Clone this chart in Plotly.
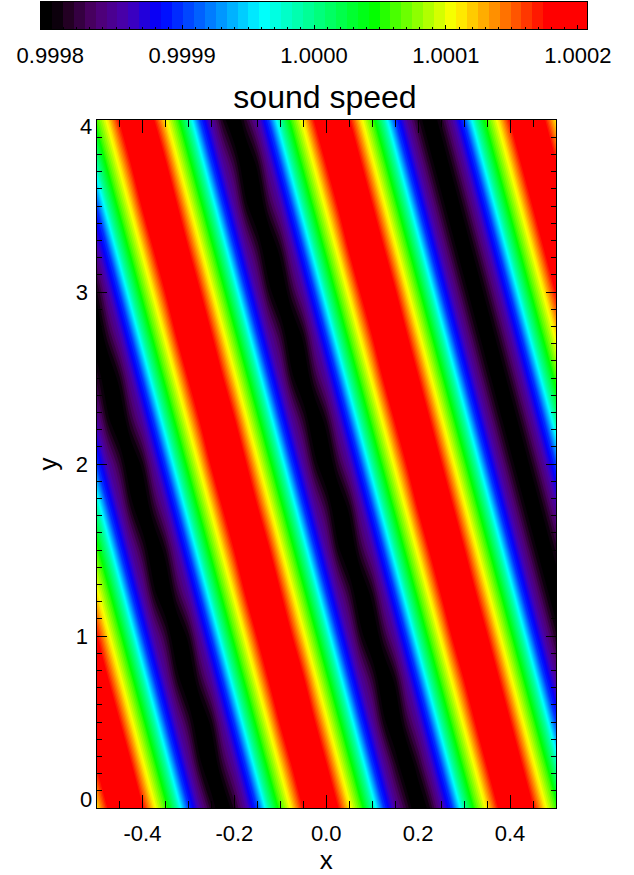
import numpy as np
import plotly.graph_objects as go

# colorbar tick labels and range
bar_ticks = [0.9998, 0.9999, 1.0, 1.0001, 1.0002]
bar_labels = ['0.9998', '0.9999', '1.0000', '1.0001', '1.0002']
z_low = 0.999793
z_high = 1.000207
n_levels = 50

x_ticks = [-0.4, -0.2, 0.0, 0.2, 0.4]
x_labels = ['-0.4', '-0.2', '0.0', '0.2', '0.4']
y_ticks = [0, 1, 2, 3, 4]
y_labels = ['', '1', '2', '3', '']

# sample positions
x_pos = [-0.5 + 0.025 * i for i in range(41)]
y_pos = [0.25 * j for j in range(17)]

# sound speed minus one, in units of 1e-4, bottom row first
rows = [
    [1.12,1.78,2.28,2.28,1.78,1.12,.60,-.08,-.99,-1.48,-1.88,-2.19,-1.88,-1.48,-.99,-.08,.60,1.12,1.78,2.28,2.28,1.78,1.12,.60,-.08,-.99,-1.48,-1.84,-2.19,-1.92,-1.48,-.99,-.08,.60,1.12,1.78,2.28,2.28,1.78,1.12,.60],
    [1.78,2.28,2.28,1.80,1.12,.60,-.08,-.99,-1.48,-1.94,-2.19,-1.82,-1.48,-.99,-.08,.60,1.12,1.76,2.28,2.28,1.78,1.12,.60,-.08,-.99,-1.48,-1.88,-2.19,-1.88,-1.48,-.99,-.08,.60,1.12,1.78,2.28,2.28,1.78,1.12,.60,-.08],
    [2.28,2.28,1.78,1.12,.60,-.08,-.99,-1.48,-1.84,-2.19,-1.94,-1.48,-.99,-.08,.60,1.12,1.80,2.28,2.28,1.76,1.12,.60,-.08,-.99,-1.48,-1.94,-2.19,-1.82,-1.48,-.99,-.08,.60,1.12,1.78,2.28,2.28,1.78,1.12,.60,-.08,-.99],
    [2.28,1.76,1.12,.60,-.08,-.99,-1.48,-1.92,-2.19,-1.84,-1.48,-.99,-.08,.60,1.12,1.78,2.28,2.28,1.80,1.12,.60,-.08,-.99,-1.48,-1.82,-2.19,-1.94,-1.48,-.99,-.08,.60,1.12,1.76,2.28,2.28,1.78,1.12,.60,-.08,-.99,-1.48],
    [1.78,1.12,.60,-.08,-.99,-1.48,-1.82,-2.19,-1.94,-1.48,-.99,-.08,.60,1.12,1.78,2.28,2.28,1.76,1.12,.60,-.08,-.99,-1.48,-1.92,-2.19,-1.84,-1.48,-.99,-.08,.60,1.12,1.80,2.28,2.28,1.78,1.12,.60,-.08,-.99,-1.48,-1.88],
    [1.12,.60,-.08,-.99,-1.48,-1.94,-2.19,-1.82,-1.48,-.99,-.08,.60,1.12,1.80,2.28,2.28,1.78,1.12,.60,-.08,-.99,-1.48,-1.84,-2.19,-1.92,-1.48,-.99,-.08,.60,1.12,1.78,2.28,2.28,1.76,1.12,.60,-.08,-.99,-1.48,-1.88,-2.19],
    [.60,-.08,-.99,-1.48,-1.84,-2.19,-1.92,-1.48,-.99,-.08,.60,1.12,1.76,2.28,2.28,1.80,1.12,.60,-.08,-.99,-1.48,-1.94,-2.19,-1.82,-1.48,-.99,-.08,.60,1.12,1.78,2.28,2.28,1.78,1.12,.60,-.08,-.99,-1.48,-1.88,-2.19,-1.88],
    [-.08,-.99,-1.48,-1.92,-2.19,-1.84,-1.48,-.99,-.08,.60,1.12,1.78,2.28,2.28,1.76,1.12,.60,-.08,-.99,-1.48,-1.82,-2.19,-1.94,-1.48,-.99,-.08,.60,1.12,1.80,2.28,2.28,1.78,1.12,.60,-.08,-.99,-1.48,-1.88,-2.19,-1.88,-1.48],
    [-.99,-1.48,-1.82,-2.19,-1.94,-1.48,-.99,-.08,.60,1.12,1.80,2.28,2.28,1.78,1.12,.60,-.08,-.99,-1.48,-1.92,-2.19,-1.84,-1.48,-.99,-.08,.60,1.12,1.76,2.28,2.28,1.78,1.12,.60,-.08,-.99,-1.48,-1.88,-2.19,-1.88,-1.48,-.99],
    [-1.48,-1.94,-2.19,-1.82,-1.48,-.99,-.08,.60,1.12,1.76,2.28,2.28,1.80,1.12,.60,-.08,-.99,-1.48,-1.84,-2.19,-1.92,-1.48,-.99,-.08,.60,1.12,1.78,2.28,2.28,1.78,1.12,.60,-.08,-.99,-1.48,-1.88,-2.19,-1.88,-1.48,-.99,-.08],
    [-1.84,-2.19,-1.92,-1.48,-.99,-.08,.60,1.12,1.78,2.28,2.28,1.76,1.12,.60,-.08,-.99,-1.48,-1.94,-2.19,-1.82,-1.48,-.99,-.08,.60,1.12,1.80,2.28,2.28,1.78,1.12,.60,-.08,-.99,-1.48,-1.88,-2.19,-1.88,-1.48,-.99,-.08,.60],
    [-2.19,-1.84,-1.48,-.99,-.08,.60,1.12,1.80,2.28,2.28,1.78,1.12,.60,-.08,-.99,-1.48,-1.82,-2.19,-1.94,-1.48,-.99,-.08,.60,1.12,1.76,2.28,2.28,1.78,1.12,.60,-.08,-.99,-1.48,-1.88,-2.19,-1.88,-1.48,-.99,-.08,.60,1.12],
    [-1.94,-1.48,-.99,-.08,.60,1.12,1.76,2.28,2.28,1.78,1.12,.60,-.08,-.99,-1.48,-1.92,-2.19,-1.84,-1.48,-.99,-.08,.60,1.12,1.78,2.28,2.28,1.80,1.12,.60,-.08,-.99,-1.48,-1.88,-2.19,-1.88,-1.48,-.99,-.08,.60,1.12,1.78],
    [-1.48,-.99,-.08,.60,1.12,1.78,2.28,2.28,1.76,1.12,.60,-.08,-.99,-1.48,-1.84,-2.19,-1.92,-1.48,-.99,-.08,.60,1.12,1.80,2.28,2.28,1.78,1.12,.60,-.08,-.99,-1.48,-1.88,-2.19,-1.88,-1.48,-.99,-.08,.60,1.12,1.78,2.28],
    [-.99,-.08,.60,1.12,1.80,2.28,2.28,1.78,1.12,.60,-.08,-.99,-1.48,-1.94,-2.19,-1.82,-1.48,-.99,-.08,.60,1.12,1.76,2.28,2.28,1.78,1.12,.60,-.08,-.99,-1.48,-1.88,-2.19,-1.88,-1.48,-.99,-.08,.60,1.12,1.78,2.28,2.28],
    [-.08,.60,1.12,1.76,2.28,2.28,1.80,1.12,.60,-.08,-.99,-1.48,-1.82,-2.19,-1.94,-1.48,-.99,-.08,.60,1.12,1.78,2.28,2.28,1.78,1.12,.60,-.08,-.99,-1.48,-1.88,-2.19,-1.88,-1.48,-.99,-.08,.60,1.12,1.78,2.28,2.28,1.78],
    [.60,1.12,1.78,2.28,2.28,1.76,1.12,.60,-.08,-.99,-1.48,-1.92,-2.19,-1.84,-1.48,-.99,-.08,.60,1.12,1.80,2.28,2.28,1.78,1.12,.60,-.08,-.99,-1.48,-1.88,-2.19,-1.88,-1.48,-.99,-.08,.60,1.12,1.78,2.28,2.28,1.78,1.12],
]

rainbow = [
    [0.0, 'rgb(0,0,0)'], [0.02, 'rgb(0,0,0)'], [0.05, 'rgb(35,0,35)'],
    [0.10, 'rgb(80,0,110)'], [0.16, 'rgb(70,0,180)'], [0.218, 'rgb(0,0,255)'],
    [0.407, 'rgb(0,255,255)'], [0.608, 'rgb(0,255,0)'], [0.755, 'rgb(255,255,0)'],
    [0.927, 'rgb(255,0,0)'], [1.0, 'rgb(255,0,0)'],
]

W, H = 634, 875
z = 1 + np.array(rows) * 1e-4
step = (z_high - z_low) / n_levels
bar_levels = z_low + step * (np.arange(n_levels) + 0.5)
font = dict(family='Liberation Sans', size=22, color='black')

fig = go.Figure()
fig.add_trace(go.Contour(x=x_pos, y=y_pos, z=z, colorscale=rainbow, zauto=False, zmin=z_low, zmax=z_high,
                         autocontour=False, showscale=False, line_width=0,
                         contours=dict(start=z_low, end=z_high, size=step, coloring='fill', showlines=False)))
fig.add_trace(go.Heatmap(x=bar_levels, y=[0, 1], z=[bar_levels, bar_levels], colorscale=rainbow,
                         zauto=False, zmin=z_low, zmax=z_high, showscale=False, xaxis='x2', yaxis='y2'))

fig.update_layout(
    template='none', width=W, height=H, margin=dict(l=0, r=0, t=0, b=0, autoexpand=False), font=font,
    paper_bgcolor='white', plot_bgcolor='white', showlegend=False,
    title=dict(text='sound speed', x=325 / W, y=1 - 97 / H, xanchor='center', yanchor='middle', automargin=False,
               font=dict(family='Liberation Sans', size=32, color='black')),
    xaxis=dict(domain=[96.5 / W, 556 / W], range=[-0.5, 0.5], anchor='y', tickmode='array', tickvals=x_ticks,
               ticktext=x_labels, ticks='inside', ticklen=13, tickcolor='black', tickwidth=1, showgrid=False,
               zeroline=False, showline=True, linecolor='black', linewidth=1, mirror='ticks', ticklabelstandoff=6,
               automargin=False,
               minor=dict(dtick=0.05, tick0=-0.5, ticks='inside', ticklen=7, tickcolor='black', showgrid=False),
               title=dict(text='x', standoff=6)),
    yaxis=dict(domain=[1 - 808 / H, 1 - 120 / H], range=[0, 4], anchor='x', tickmode='array', tickvals=y_ticks,
               ticktext=y_labels, ticks='inside', ticklen=10, tickcolor='black', tickwidth=1, showgrid=False,
               zeroline=False, showline=True, linecolor='black', linewidth=1, mirror='ticks', ticklabelstandoff=3,
               automargin=False,
               minor=dict(dtick=0.1, tick0=0, ticks='inside', ticklen=5, tickcolor='black', showgrid=False),
               title=dict(text='y', standoff=10)),
    xaxis2=dict(domain=[41 / W, 587 / W], range=[z_low, z_high], anchor='y2', tickmode='array', tickvals=bar_ticks,
                ticktext=bar_labels, ticks='inside', ticklen=4, tickcolor='black', showgrid=False, zeroline=False,
                showline=True, linecolor='black', linewidth=1, mirror=True, ticklabelstandoff=7, automargin=False,
                minor=dict(dtick=1e-5, tick0=0.9998, ticks='inside', ticklen=2, tickcolor='black', showgrid=False)),
    yaxis2=dict(domain=[1 - 29 / H, 1 - 2 / H], range=[0, 1], anchor='x2', showticklabels=False, ticks='',
                automargin=False, showgrid=False, zeroline=False, showline=True, linecolor='black', linewidth=1,
                mirror=True),
)
# the end labels of the y axis sit just inside the frame
fig.add_annotation(x=-0.5, y=0, xref='x', yref='y', text='0', showarrow=False, xanchor='right', yanchor='middle',
                   xshift=-3, yshift=9, font=font)
fig.add_annotation(x=-0.5, y=4, xref='x', yref='y', text='4', showarrow=False, xanchor='right', yanchor='middle',
                   xshift=-3, yshift=-7, font=font)

fig.write_html("out.html", config={'displayModeBar': False}, post_script="document.body.style.margin='0';")
